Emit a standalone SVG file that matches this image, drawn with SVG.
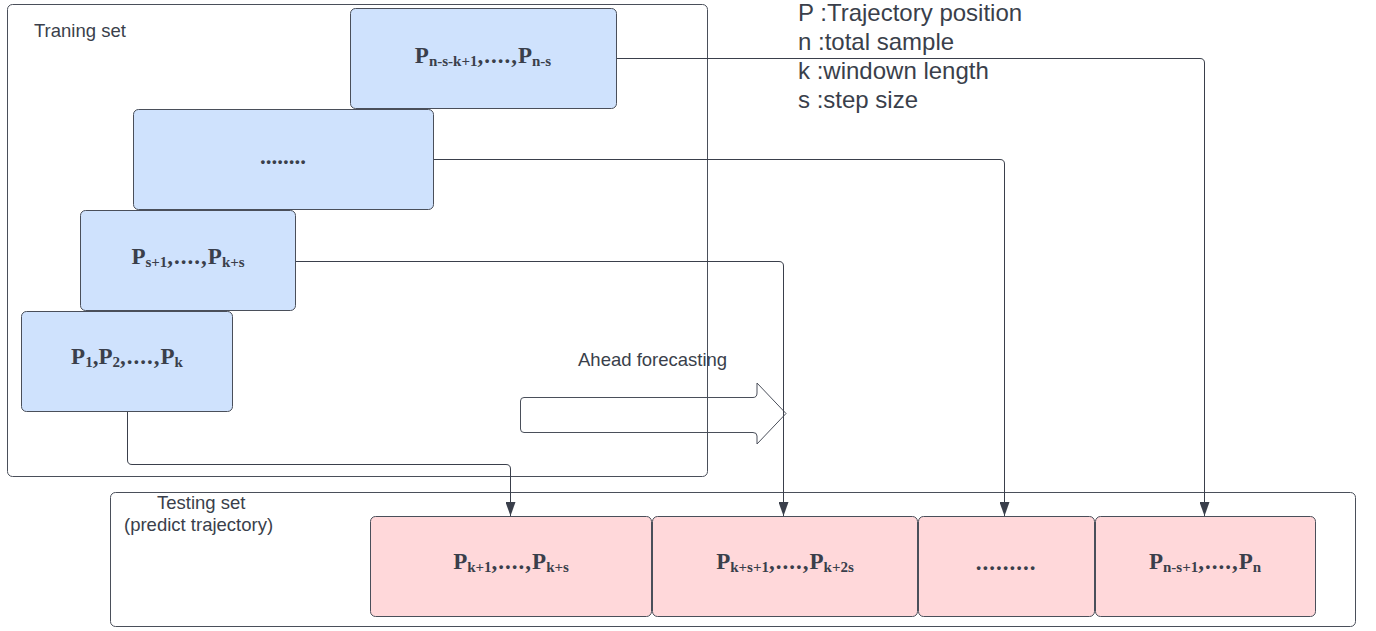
<svg xmlns="http://www.w3.org/2000/svg" width="1376" height="631" viewBox="0 0 1376 631">
  <style>
    .frame { fill: none; stroke: #4a4f5a; stroke-width: 1; }
    .train { fill: #cfe2fd; stroke: #4a4f5a; stroke-width: 1; }
    .test { fill: #ffd8da; stroke: #4a4f5a; stroke-width: 1; }
    .lbl { font-family: "Liberation Serif", "Times New Roman", serif; font-weight: bold; font-size: 23px; fill: #3a3f4b; text-anchor: middle; }
    .sub { font-size: 15px; }
    .dots { letter-spacing: 1px; }
    .plain { font-family: "Liberation Sans", Arial, sans-serif; fill: #3a3f4b; }
    .conn { fill: none; stroke: #3a3f4b; stroke-width: 1; }
  </style>
  <defs>
    <marker id="arrow" viewBox="0 0 14 10" refX="14" refY="5" markerWidth="14" markerHeight="10" markerUnits="userSpaceOnUse" orient="auto">
      <path d="M0,0 L14,5 L0,10 Z" fill="#3a3f4b"/>
    </marker>
  </defs>
  <rect width="1376" height="631" fill="#ffffff"/>

  <!-- frames -->
  <g id="training-frame">
    <rect class="frame" x="7.5" y="4.5" width="700" height="472" rx="5"/>
    <text class="plain" x="34" y="37" font-size="18.5">Traning set</text>
  </g>
  <g id="testing-frame">
    <rect class="frame" x="110.5" y="492.5" width="1245" height="134" rx="5"/>
    <text class="plain" x="157" y="509" font-size="18.5">Testing set</text>
    <text class="plain" x="124" y="531" font-size="18.5">(predict trajectory)</text>
  </g>

  <!-- training windows -->
  <g id="win-top">
    <rect class="train" x="350.5" y="8.5" width="266" height="100" rx="5"/>
    <text class="lbl" x="483" y="63">P<tspan class="sub" dy="3">n-s-k+1</tspan><tspan class="dots" dy="-3">,....,</tspan>P<tspan class="sub" dy="3">n-s</tspan></text>
  </g>
  <g id="win-mid">
    <rect class="train" x="133.5" y="109.5" width="300" height="100" rx="5"/>
    <text class="lbl" x="283" y="164" font-weight="normal" font-size="17">........</text>
  </g>
  <g id="win-second">
    <rect class="train" x="80.5" y="210.5" width="215" height="100" rx="5"/>
    <text class="lbl" x="188" y="264">P<tspan class="sub" dy="3">s+1</tspan><tspan class="dots" dy="-3">,....,</tspan>P<tspan class="sub" dy="3">k+s</tspan></text>
  </g>
  <g id="win-first">
    <rect class="train" x="21.5" y="311.5" width="211" height="100" rx="5"/>
    <text class="lbl" x="127" y="364">P<tspan class="sub" dy="3">1</tspan><tspan dy="-3">,P</tspan><tspan class="sub" dy="3">2</tspan><tspan class="dots" dy="-3">,....,</tspan>P<tspan class="sub" dy="3">k</tspan></text>
  </g>

  <!-- testing blocks -->
  <g id="test-1">
    <rect class="test" x="370.5" y="516.5" width="281" height="100" rx="5"/>
    <text class="lbl" x="511" y="569">P<tspan class="sub" dy="3">k+1</tspan><tspan class="dots" dy="-3">,....,</tspan>P<tspan class="sub" dy="3">k+s</tspan></text>
  </g>
  <g id="test-2">
    <rect class="test" x="652.5" y="516.5" width="265" height="100" rx="5"/>
    <text class="lbl" x="785" y="569">P<tspan class="sub" dy="3">k+s+1</tspan><tspan class="dots" dy="-3">,....,</tspan>P<tspan class="sub" dy="3">k+2s</tspan></text>
  </g>
  <g id="test-3">
    <rect class="test" x="918.5" y="516.5" width="176" height="100" rx="5"/>
    <text class="lbl dots" x="1006" y="570" font-size="22">.........</text>
  </g>
  <g id="test-4">
    <rect class="test" x="1095.5" y="516.5" width="220" height="100" rx="5"/>
    <text class="lbl" x="1205" y="569">P<tspan class="sub" dy="3">n-s+1</tspan><tspan class="dots" dy="-3">,....,</tspan>P<tspan class="sub" dy="3">n</tspan></text>
  </g>

  <!-- ahead forecasting block arrow -->
  <g id="forecast-arrow">
    <path class="frame" d="M524,397.5 L753,397.5 Q757,397.5 757,393 L757,383 L786,413.5 L757,444 L757,436 Q757,432.5 753,432.5 L524,432.5 Q520.5,432.5 520.5,429 L520.5,401 Q520.5,397.5 524,397.5 Z"/>
    <text class="plain" x="578" y="366" font-size="18.5">Ahead forecasting</text>
  </g>

  <!-- legend -->
  <g id="legend" class="plain" font-size="24">
    <text x="798" y="21">P :Trajectory position</text>
    <text x="798" y="50">n :total sample</text>
    <text x="798" y="79">k :windown length</text>
    <text x="798" y="108">s :step size</text>
  </g>

  <!-- connectors -->
  <g id="connectors">
    <path class="conn" d="M127.5,412 L127.5,460 Q127.5,464.5 132,464.5 L506,464.5 Q510.5,464.5 510.5,469 L510.5,516" marker-end="url(#arrow)"/>
    <path class="conn" d="M296,261.5 L779,261.5 Q783.5,261.5 783.5,266 L783.5,516" marker-end="url(#arrow)"/>
    <path class="conn" d="M434,159.5 L1000,159.5 Q1004.5,159.5 1004.5,164 L1004.5,516" marker-end="url(#arrow)"/>
    <path class="conn" d="M617,58.5 L1200,58.5 Q1204.5,58.5 1204.5,63 L1204.5,516" marker-end="url(#arrow)"/>
  </g>
</svg>
